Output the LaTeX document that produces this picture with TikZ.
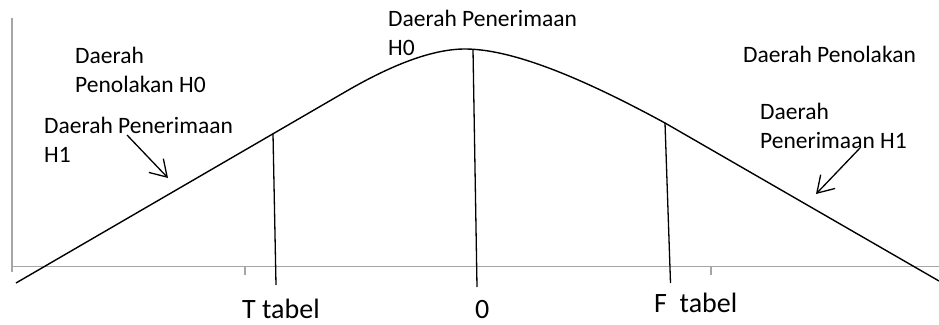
\documentclass[tikz,border=0pt]{standalone}
\usepackage{fontspec}
\setmainfont{Carlito}
\usetikzlibrary{arrows.meta}
\definecolor{axisgray}{HTML}{A6A6A6}
\begin{document}
\begin{tikzpicture}[x=1pt,y=-1pt,
  axisline/.style={draw=axisgray, line width=1.5pt},
  curveline/.style={draw=black, line width=1.4pt},
  dropline/.style={draw=black, line width=1.3pt},
  lbl/.style={font=\fontsize{23.5}{29}\selectfont, inner sep=0pt, anchor=base west, align=left},
  biglbl/.style={font=\fontsize{28}{34}\selectfont, inner sep=0pt, anchor=base west},
  pointer/.style={draw=black, line width=1.3pt, -{Straight Barb[length=16pt,width=20pt]}}]
\useasboundingbox (0,0) rectangle (939,324);
% axes
\coordinate (yt) at (12,18);
\coordinate (yb) at (12,272);
\coordinate (xl) at (12,266.5);
\coordinate (xr) at (939,266.5);
\coordinate (k1a) at (245,266.5);
\coordinate (k1b) at (245,275);
\coordinate (k2a) at (711,266.5);
\coordinate (k2b) at (711,275);
\draw[axisline] (yt) -- (yb);
\draw[axisline] (xl) -- (xr);
\draw[axisline] (k1a) -- (k1b);
\draw[axisline] (k2a) -- (k2b);
% curve
\coordinate (c0) at (16,283);
\coordinate (c1) at (345,92);
\coordinate (pk) at (465,49);
\coordinate (fp) at (665,123);
\coordinate (c9) at (939,281);
\draw[curveline] (c0) -- (c1) .. controls (394,63.4) and (434,49) .. (pk)
  .. controls (509,49) and (575,74) .. (fp) -- (c9);
% drop lines
\coordinate (tp) at (273,133.8);
\coordinate (tb) at (276,285);
\coordinate (mp) at (473,49.3);
\coordinate (mb) at (477,287);
\coordinate (fb) at (670.5,283);
\draw[dropline] (tp) -- (tb);
\draw[dropline] (mp) -- (mb);
\draw[dropline] (fp) -- (fb);
% labels (base anchor = baseline of last line)
\node[lbl] (lh0) at (75,92) {Daerah\\Penolakan H0};
\node[lbl] (lh1) at (44,162) {Daerah Penerimaan\\H1};
\node[lbl] (mh0) at (388,55) {Daerah Penerimaan\\H0};
\node[lbl] (rh0) at (743,62) {Daerah Penolakan};
\node[lbl] (rh1) at (760,148) {Daerah\\Penerimaan H1};
\node[biglbl] (ttab) at (242,318) {T tabel};
\node[biglbl] (zero) at (475,318.5) {0};
\node[biglbl] (ftab) at (654,312) {F\ \ tabel};
% pointers
\coordinate (a1s) at (127,135);
\coordinate (a1e) at (168,178);
\coordinate (a2s) at (860,148);
\coordinate (a2e) at (816,194);
\draw[pointer] (a1s) -- (a1e);
\draw[pointer] (a2s) -- (a2e);
\end{tikzpicture}
\end{document}
